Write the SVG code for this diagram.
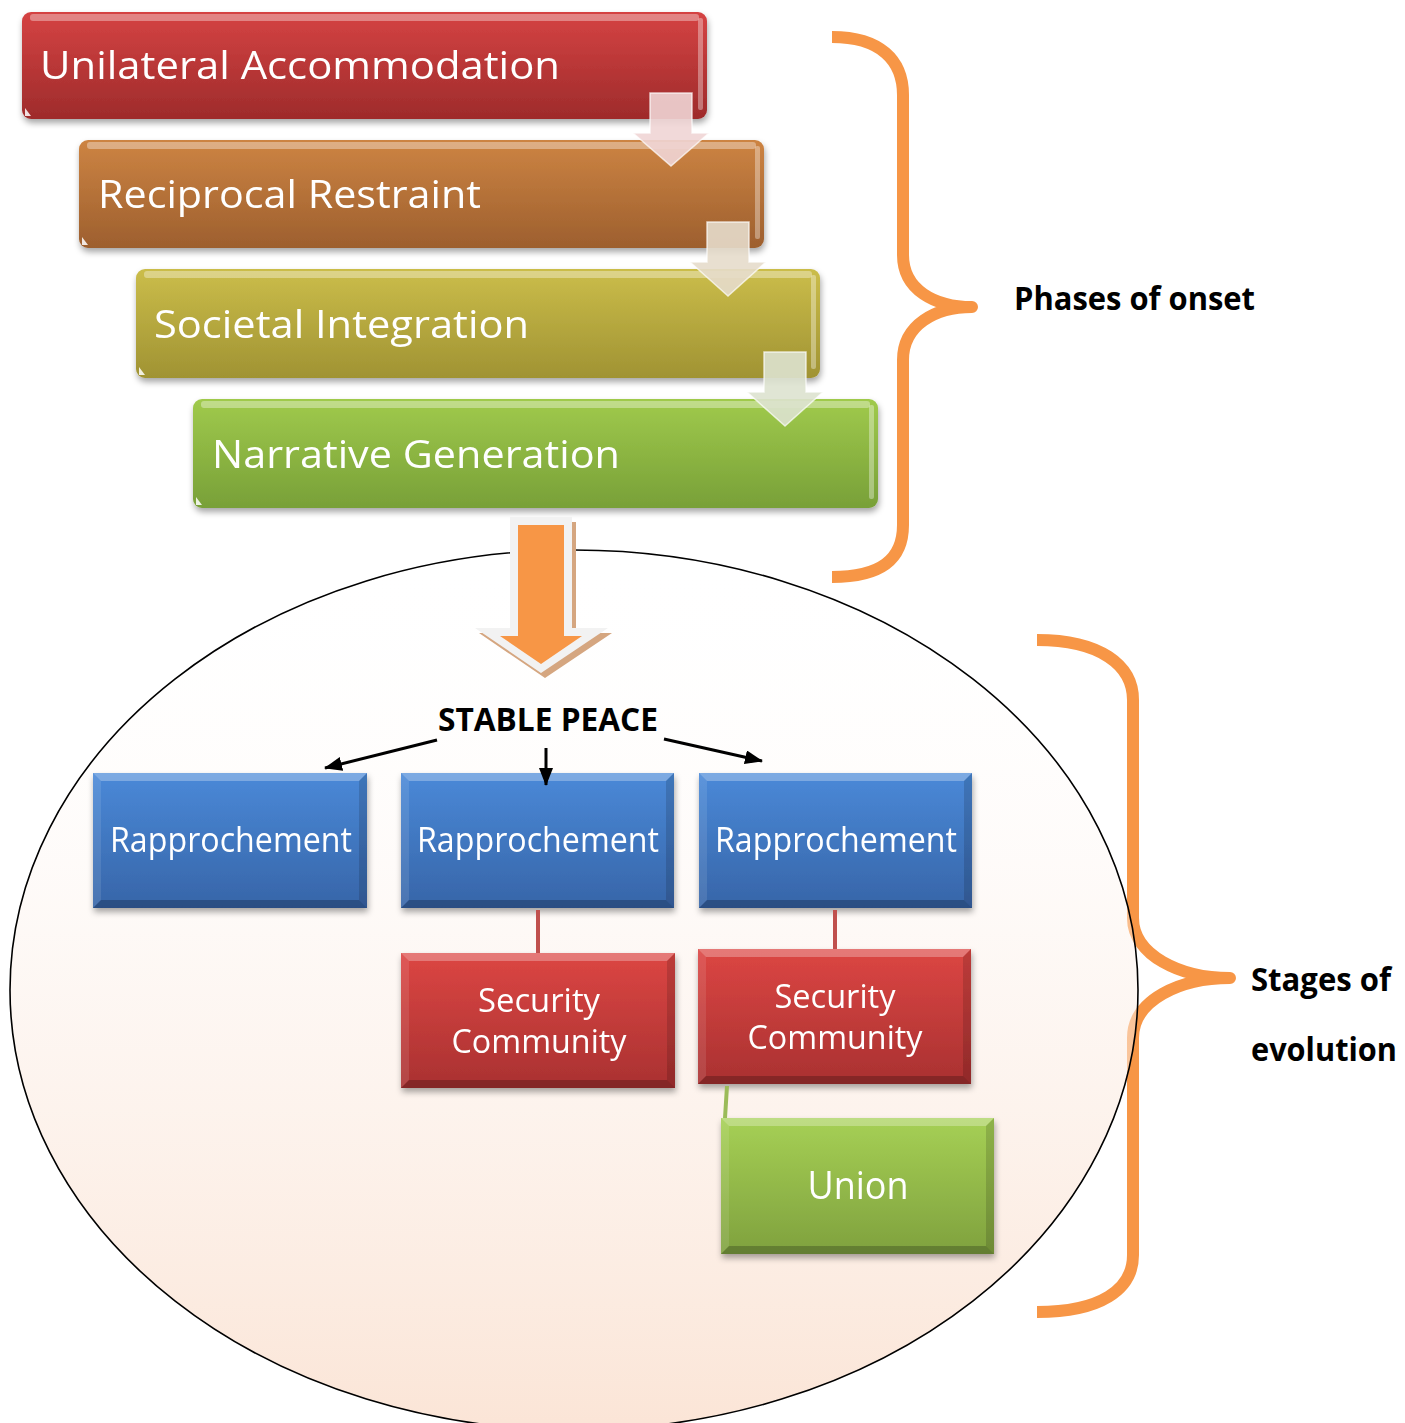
<svg xmlns="http://www.w3.org/2000/svg" width="1405" height="1423" viewBox="0 0 1405 1423">
<defs>
<style>
.boxtxt{font-family:"Open Sans","Liberation Sans",sans-serif;fill:#ffffff;}
.lbl{font-family:"Open Sans","Liberation Sans",sans-serif;font-weight:bold;fill:#000000;}
.brace{fill:none;stroke:#f79646;stroke-width:12;stroke-linejoin:round;}
.hl{fill:#ffffff;opacity:0.35;}
.tri{fill:#ffffff;opacity:0.85;}
.bvT{fill:#ffffff;opacity:0.28;}
.bvL{fill:#ffffff;opacity:0.1;}
.bvR{fill:#000000;opacity:0.14;}
.bvB{fill:#000000;opacity:0.22;}
.conn{stroke:#000000;stroke-width:3;fill:none;}
</style>
<linearGradient id="gRed" x1="0" y1="0" x2="0" y2="1"><stop offset="0" stop-color="#d54343"/><stop offset="1" stop-color="#9e2b2b"/></linearGradient>
<linearGradient id="gOrange" x1="0" y1="0" x2="0" y2="1"><stop offset="0" stop-color="#cd8443"/><stop offset="1" stop-color="#9d5f2e"/></linearGradient>
<linearGradient id="gOlive" x1="0" y1="0" x2="0" y2="1"><stop offset="0" stop-color="#cbbd4a"/><stop offset="1" stop-color="#a09333"/></linearGradient>
<linearGradient id="gGreen" x1="0" y1="0" x2="0" y2="1"><stop offset="0" stop-color="#a0ca4c"/><stop offset="1" stop-color="#78a038"/></linearGradient>
<linearGradient id="bBlue" x1="0" y1="0" x2="0" y2="1"><stop offset="0" stop-color="#4a89d8"/><stop offset="1" stop-color="#3765a8"/></linearGradient>
<linearGradient id="bRed" x1="0" y1="0" x2="0" y2="1"><stop offset="0" stop-color="#dc4643"/><stop offset="1" stop-color="#a93131"/></linearGradient>
<linearGradient id="bGreen" x1="0" y1="0" x2="0" y2="1"><stop offset="0" stop-color="#a6d055"/><stop offset="1" stop-color="#7fa13e"/></linearGradient>
<linearGradient id="gEll" x1="0" y1="0" x2="0" y2="1"><stop offset="0" stop-color="#ffffff" stop-opacity="0"/><stop offset="0.5" stop-color="#fcefe7" stop-opacity="0.5"/><stop offset="1" stop-color="#fadecc" stop-opacity="0.8"/></linearGradient>
<filter id="sh" x="-5%" y="-10%" width="110%" height="130%"><feDropShadow dx="1" dy="4" stdDeviation="3" flood-color="#000000" flood-opacity="0.35"/></filter>
<marker id="ah" viewBox="0 0 18 14" refX="17" refY="7" markerWidth="18" markerHeight="14" markerUnits="userSpaceOnUse" orient="auto"><path d="M0,0 L18,7 L0,14 Z" fill="#000000"/></marker>
</defs>

<rect width="1405" height="1423" fill="#ffffff"/>

<!-- braces -->
<path id="brace-phases" class="brace" d="M832,37 C880,37 903,60 903,95 L903,255 C903,290 935,307 972,307 C935,307 903,325 903,360 L903,525 C903,560 880,577 832,577"/>
<path id="brace-stages" class="brace" d="M1037,640 C1100,640 1133,665 1133,700 L1133,918 C1133,955 1180,978 1230,978 C1180,978 1133,1000 1133,1038 L1133,1255 C1133,1290 1100,1312 1037,1312"/>

<!-- ellipse -->
<ellipse id="ellipse" cx="574" cy="990" rx="564" ry="440" fill="url(#gEll)" stroke="#000000" stroke-width="1.6"/>

<!-- top stack boxes -->
<g id="n-unilateral" filter="url(#sh)">
<rect x="22" y="12" width="685" height="107" rx="9" fill="url(#gRed)"/>
<rect x="30" y="14" width="669" height="7" rx="3" class="hl"/>
<rect x="698" y="18" width="5" height="92" rx="2" class="hl"/>
<path d="M25,116 L25,108 L31,116 Z" class="tri"/>
<text class="boxtxt" x="40" y="79" font-size="39" textLength="520" lengthAdjust="spacingAndGlyphs">Unilateral Accommodation</text>
</g>
<g id="n-reciprocal" filter="url(#sh)">
<rect x="79" y="140" width="685" height="108" rx="9" fill="url(#gOrange)"/>
<rect x="87" y="142" width="669" height="7" rx="3" class="hl"/>
<rect x="755" y="146" width="5" height="93" rx="2" class="hl"/>
<path d="M82,245 L82,237 L88,245 Z" class="tri"/>
<text class="boxtxt" x="98" y="208" font-size="39" textLength="383" lengthAdjust="spacingAndGlyphs">Reciprocal Restraint</text>
</g>
<g id="n-societal" filter="url(#sh)">
<rect x="136" y="269" width="684" height="109" rx="9" fill="url(#gOlive)"/>
<rect x="144" y="271" width="668" height="7" rx="3" class="hl"/>
<rect x="811" y="275" width="5" height="94" rx="2" class="hl"/>
<path d="M139,375 L139,367 L145,375 Z" class="tri"/>
<text class="boxtxt" x="154" y="338" font-size="39" textLength="375" lengthAdjust="spacingAndGlyphs">Societal Integration</text>
</g>
<g id="n-narrative" filter="url(#sh)">
<rect x="193" y="399" width="685" height="109" rx="9" fill="url(#gGreen)"/>
<rect x="201" y="401" width="669" height="7" rx="3" class="hl"/>
<rect x="869" y="405" width="5" height="94" rx="2" class="hl"/>
<path d="M196,505 L196,497 L202,505 Z" class="tri"/>
<text class="boxtxt" x="212" y="468" font-size="39" textLength="408" lengthAdjust="spacingAndGlyphs">Narrative Generation</text>
</g>

<text id="t-stable" class="lbl" x="438" y="731" font-size="32" textLength="220" lengthAdjust="spacingAndGlyphs">STABLE PEACE</text>

<!-- lower boxes -->
<g id="n-rap1" filter="url(#sh)">
<rect x="93" y="773" width="274" height="135" fill="url(#bBlue)"/>
<polygon class="bvT" points="93,773 367,773 359,781 101,781"/>
<polygon class="bvL" points="93,773 101,781 101,900 93,908"/>
<polygon class="bvR" points="367,773 367,908 359,900 359,781"/>
<polygon class="bvB" points="93,908 367,908 359,900 101,900"/>
<text class="boxtxt" x="231" y="852" font-size="34" text-anchor="middle" textLength="242" lengthAdjust="spacingAndGlyphs">Rapprochement</text>
</g>
<g id="n-rap2" filter="url(#sh)">
<rect x="401" y="773" width="273" height="135" fill="url(#bBlue)"/>
<polygon class="bvT" points="401,773 674,773 666,781 409,781"/>
<polygon class="bvL" points="401,773 409,781 409,900 401,908"/>
<polygon class="bvR" points="674,773 674,908 666,900 666,781"/>
<polygon class="bvB" points="401,908 674,908 666,900 409,900"/>
<text class="boxtxt" x="538" y="852" font-size="34" text-anchor="middle" textLength="242" lengthAdjust="spacingAndGlyphs">Rapprochement</text>
</g>
<g id="n-rap3" filter="url(#sh)">
<rect x="699" y="773" width="273" height="135" fill="url(#bBlue)"/>
<polygon class="bvT" points="699,773 972,773 964,781 707,781"/>
<polygon class="bvL" points="699,773 707,781 707,900 699,908"/>
<polygon class="bvR" points="972,773 972,908 964,900 964,781"/>
<polygon class="bvB" points="699,908 972,908 964,900 707,900"/>
<text class="boxtxt" x="836" y="852" font-size="34" text-anchor="middle" textLength="242" lengthAdjust="spacingAndGlyphs">Rapprochement</text>
</g>
<g id="n-sc1" filter="url(#sh)">
<rect x="401" y="953" width="274" height="135" fill="url(#bRed)"/>
<polygon class="bvT" points="401,953 675,953 667,961 409,961"/>
<polygon class="bvL" points="401,953 409,961 409,1080 401,1088"/>
<polygon class="bvR" points="675,953 675,1088 667,1080 667,961"/>
<polygon class="bvB" points="401,1088 675,1088 667,1080 409,1080"/>
<text class="boxtxt" x="539" y="1012" font-size="32" text-anchor="middle" textLength="122" lengthAdjust="spacingAndGlyphs">Security</text>
<text class="boxtxt" x="539" y="1053" font-size="32" text-anchor="middle" textLength="175" lengthAdjust="spacingAndGlyphs">Community</text>
</g>
<g id="n-sc2" filter="url(#sh)">
<rect x="698" y="949" width="273" height="135" fill="url(#bRed)"/>
<polygon class="bvT" points="698,949 971,949 963,957 706,957"/>
<polygon class="bvL" points="698,949 706,957 706,1076 698,1084"/>
<polygon class="bvR" points="971,949 971,1084 963,1076 963,957"/>
<polygon class="bvB" points="698,1084 971,1084 963,1076 706,1076"/>
<text class="boxtxt" x="835" y="1008" font-size="32" text-anchor="middle" textLength="121" lengthAdjust="spacingAndGlyphs">Security</text>
<text class="boxtxt" x="835" y="1049" font-size="32" text-anchor="middle" textLength="175" lengthAdjust="spacingAndGlyphs">Community</text>
</g>
<g id="n-union" filter="url(#sh)">
<rect x="721" y="1118" width="273" height="136" fill="url(#bGreen)"/>
<polygon class="bvT" points="721,1118 994,1118 986,1126 729,1126"/>
<polygon class="bvL" points="721,1118 729,1126 729,1246 721,1254"/>
<polygon class="bvR" points="994,1118 994,1254 986,1246 986,1126"/>
<polygon class="bvB" points="721,1254 994,1254 986,1246 729,1246"/>
<text class="boxtxt" x="858" y="1199" font-size="38" text-anchor="middle" textLength="101" lengthAdjust="spacingAndGlyphs">Union</text>
</g>

<!-- connectors -->
<g id="connectors">
<path d="M650,93 L692,93 L692,133 L709,133 L671,166 L633,133 L650,133 Z" fill="#efd5d5" fill-opacity="0.9" stroke="#ffffff" stroke-opacity="0.7" stroke-width="1.5"/>
<path d="M707,222 L749,222 L749,262 L766,262 L728,296 L690,262 L707,262 Z" fill="#e6dccb" fill-opacity="0.9" stroke="#ffffff" stroke-opacity="0.7" stroke-width="1.5"/>
<path d="M764,352 L806,352 L806,392 L823,392 L785,426 L747,392 L764,392 Z" fill="#dde2cf" fill-opacity="0.9" stroke="#ffffff" stroke-opacity="0.7" stroke-width="1.5"/>
<path d="M514,522 L576,522 L576,633 L612,633 L545,678 L479,633 L514,633 Z" fill="#d5a680"/>
<path d="M510,517 L572,517 L572,628 L608,628 L541,673 L475,628 L510,628 Z" fill="#f2f2f2"/>
<path d="M518,525 L564,525 L564,636 L582,636 L541,664 L500,636 L518,636 Z" fill="#f79646"/>
<line class="conn" x1="437" y1="740" x2="325" y2="768" marker-end="url(#ah)"/>
<line class="conn" x1="546" y1="748" x2="546" y2="785" marker-end="url(#ah)"/>
<line class="conn" x1="664" y1="739" x2="762" y2="761" marker-end="url(#ah)"/>
<line x1="538" y1="910" x2="538" y2="953" stroke="#c0504d" stroke-width="4"/>
<line x1="835" y1="910" x2="835" y2="949" stroke="#c0504d" stroke-width="4"/>
<line x1="727" y1="1086" x2="725" y2="1118" stroke="#9bbb59" stroke-width="4"/>
</g>

<text id="t-phases" class="lbl" x="1014" y="310" font-size="32" textLength="241" lengthAdjust="spacingAndGlyphs">Phases of onset</text>
<text id="t-stages1" class="lbl" x="1251" y="991" font-size="32" textLength="140" lengthAdjust="spacingAndGlyphs">Stages of</text>
<text id="t-stages2" class="lbl" x="1251" y="1061" font-size="32" textLength="146" lengthAdjust="spacingAndGlyphs">evolution</text>
</svg>
